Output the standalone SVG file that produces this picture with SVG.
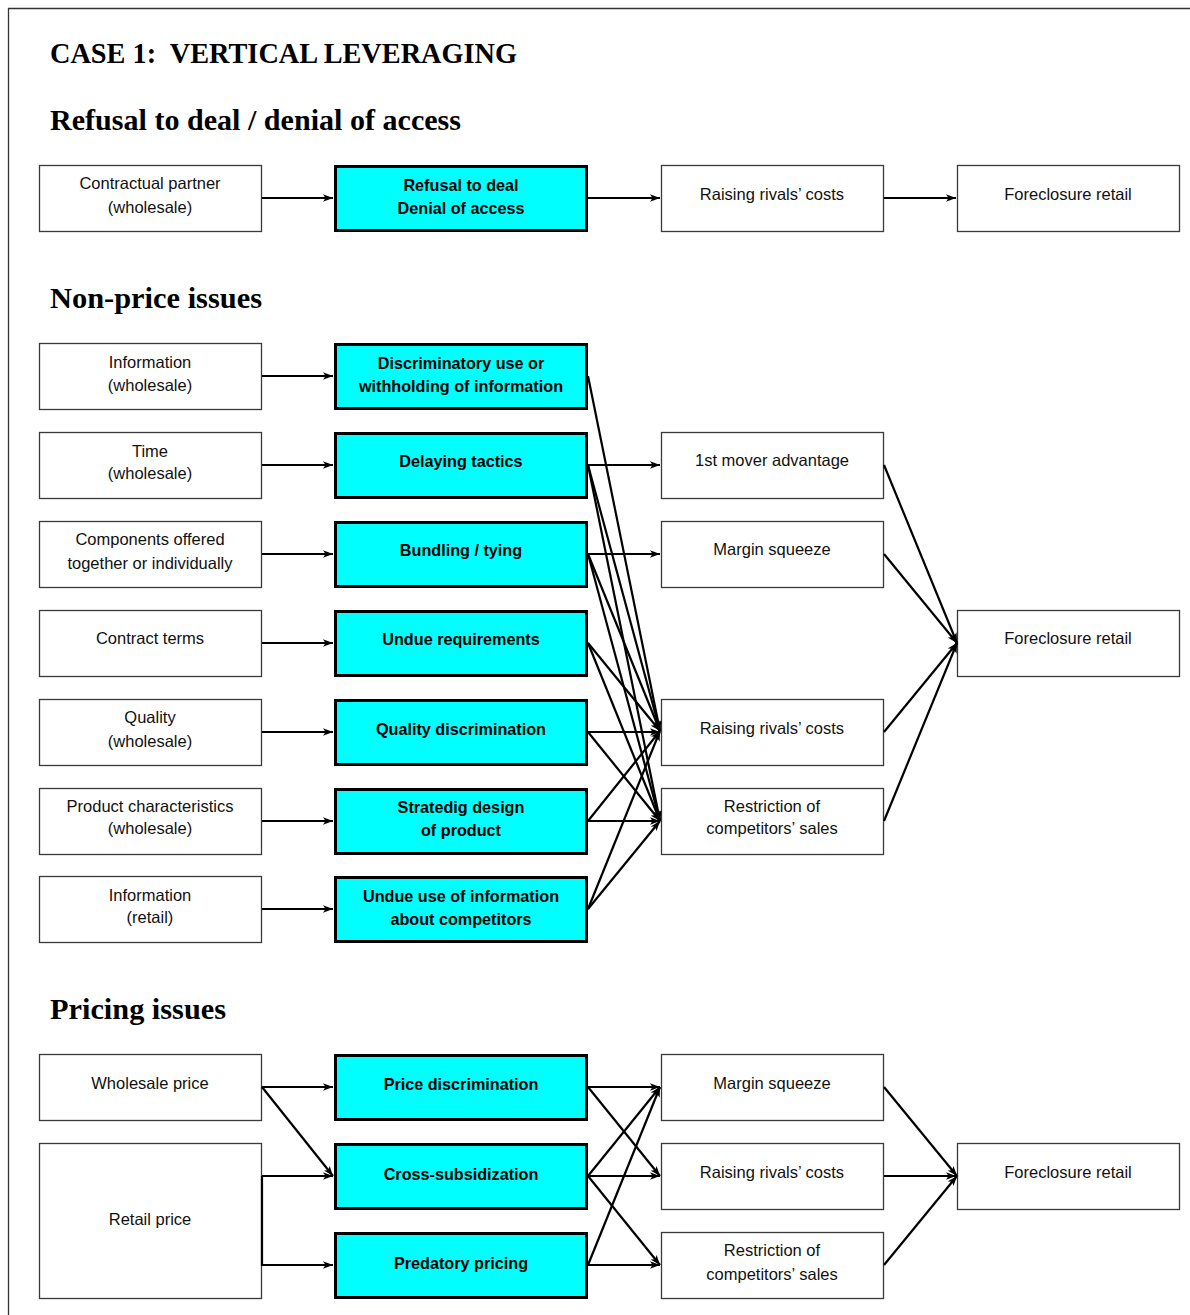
<svg xmlns="http://www.w3.org/2000/svg" width="1190" height="1315" viewBox="0 0 1190 1315">
<defs>
<marker id="a" viewBox="0 0 10 8" refX="10" refY="4" markerWidth="10" markerHeight="8" markerUnits="userSpaceOnUse" orient="auto">
<path d="M0,0.3 L10,4 L0,7.7 L2.5,4 z" fill="#000"/>
</marker>
<style>
.bg{fill:#fff}
.frame{fill:none;stroke:#333;stroke-width:1.3}
.w{fill:#fff;stroke:#3a3a3a;stroke-width:1.3}
.c{fill:#00ffff;stroke:#000;stroke-width:3}
.t{font-family:"Liberation Sans",Arial,sans-serif;font-size:16.5px;fill:#111;text-anchor:middle}
.tb{font-family:"Liberation Sans",Arial,sans-serif;font-size:16.2px;font-weight:bold;fill:#000;text-anchor:middle}
.h{font-family:"Liberation Serif","Times New Roman",serif;font-weight:bold;fill:#000;font-size:29px}
.e{fill:none;stroke:#000;stroke-width:2.2;marker-end:url(#a)}
</style>
</defs>
<rect class="bg" x="0" y="0" width="1190" height="1315"/>
<path class="frame" d="M8.5,1315 V8.5 H1190"/>

<text class="h" x="50" y="63" textLength="467" lengthAdjust="spacingAndGlyphs">CASE 1:&#160; VERTICAL LEVERAGING</text>
<text class="h" x="50" y="130" textLength="411" lengthAdjust="spacingAndGlyphs">Refusal to deal / denial of access</text>
<text class="h" x="50" y="308" textLength="212" lengthAdjust="spacingAndGlyphs">Non-price issues</text>
<text class="h" x="50" y="1019" textLength="176" lengthAdjust="spacingAndGlyphs">Pricing issues</text>

<!-- Section 1 -->
<g id="n-contractual"><rect class="w" x="39.5" y="165.5" width="222" height="66"/><text class="t" x="150" y="189">Contractual partner</text><text class="t" x="150" y="213">(wholesale)</text></g>
<g id="n-refusal"><rect class="c" x="335.5" y="166.5" width="251" height="64"/><text class="tb" x="461" y="191">Refusal to deal</text><text class="tb" x="461" y="214">Denial of access</text></g>
<g id="n-rrc1"><rect class="w" x="661.5" y="165.5" width="222" height="66"/><text class="t" x="772" y="200">Raising rivals’ costs</text></g>
<g id="n-fore1"><rect class="w" x="957.5" y="165.5" width="222" height="66"/><text class="t" x="1068" y="200">Foreclosure retail</text></g>

<!-- Section 2 left -->
<g id="n-info-w"><rect class="w" x="39.5" y="343.5" width="222" height="66"/><text class="t" x="150" y="368">Information</text><text class="t" x="150" y="391">(wholesale)</text></g>
<g id="n-time"><rect class="w" x="39.5" y="432.5" width="222" height="66"/><text class="t" x="150" y="457">Time</text><text class="t" x="150" y="479">(wholesale)</text></g>
<g id="n-components"><rect class="w" x="39.5" y="521.5" width="222" height="66"/><text class="t" x="150" y="545">Components offered</text><text class="t" x="150" y="569">together or individually</text></g>
<g id="n-contract"><rect class="w" x="39.5" y="610.5" width="222" height="66"/><text class="t" x="150" y="644">Contract terms</text></g>
<g id="n-quality"><rect class="w" x="39.5" y="699.5" width="222" height="66"/><text class="t" x="150" y="723">Quality</text><text class="t" x="150" y="747">(wholesale)</text></g>
<g id="n-product"><rect class="w" x="39.5" y="788.5" width="222" height="66"/><text class="t" x="150" y="812">Product characteristics</text><text class="t" x="150" y="834">(wholesale)</text></g>
<g id="n-info-r"><rect class="w" x="39.5" y="876.5" width="222" height="66"/><text class="t" x="150" y="901">Information</text><text class="t" x="150" y="923">(retail)</text></g>

<!-- Section 2 middle -->
<g id="n-discrim"><rect class="c" x="335.5" y="344.5" width="251" height="64"/><text class="tb" x="461" y="369">Discriminatory use or</text><text class="tb" x="461" y="392">withholding of information</text></g>
<g id="n-delay"><rect class="c" x="335.5" y="433.5" width="251" height="64"/><text class="tb" x="461" y="467">Delaying tactics</text></g>
<g id="n-bundling"><rect class="c" x="335.5" y="522.5" width="251" height="64"/><text class="tb" x="461" y="556">Bundling / tying</text></g>
<g id="n-undue-req"><rect class="c" x="335.5" y="611.5" width="251" height="64"/><text class="tb" x="461" y="645">Undue requirements</text></g>
<g id="n-quality-d"><rect class="c" x="335.5" y="700.5" width="251" height="64"/><text class="tb" x="461" y="735">Quality discrimination</text></g>
<g id="n-design"><rect class="c" x="335.5" y="789.5" width="251" height="64"/><text class="tb" x="461" y="813">Stratedig design</text><text class="tb" x="461" y="836">of product</text></g>
<g id="n-undue-info"><rect class="c" x="335.5" y="877.5" width="251" height="64"/><text class="tb" x="461" y="902">Undue use of information</text><text class="tb" x="461" y="925">about competitors</text></g>

<!-- Section 2 right -->
<g id="n-first"><rect class="w" x="661.5" y="432.5" width="222" height="66"/><text class="t" x="772" y="466">1st mover advantage</text></g>
<g id="n-margin2"><rect class="w" x="661.5" y="521.5" width="222" height="66"/><text class="t" x="772" y="555">Margin squeeze</text></g>
<g id="n-rrc2"><rect class="w" x="661.5" y="699.5" width="222" height="66"/><text class="t" x="772" y="734">Raising rivals’ costs</text></g>
<g id="n-restr2"><rect class="w" x="661.5" y="788.5" width="222" height="66"/><text class="t" x="772" y="812">Restriction of</text><text class="t" x="772" y="834">competitors’ sales</text></g>
<g id="n-fore2"><rect class="w" x="957.5" y="610.5" width="222" height="66"/><text class="t" x="1068" y="644">Foreclosure retail</text></g>

<!-- Section 3 -->
<g id="n-wholesale"><rect class="w" x="39.5" y="1054.5" width="222" height="66"/><text class="t" x="150" y="1089">Wholesale price</text></g>
<g id="n-retail"><rect class="w" x="39.5" y="1143.5" width="222" height="155"/><text class="t" x="150" y="1225">Retail price</text></g>
<g id="n-pricedisc"><rect class="c" x="335.5" y="1055.5" width="251" height="64"/><text class="tb" x="461" y="1090">Price discrimination</text></g>
<g id="n-cross"><rect class="c" x="335.5" y="1144.5" width="251" height="64"/><text class="tb" x="461" y="1180">Cross-subsidization</text></g>
<g id="n-predatory"><rect class="c" x="335.5" y="1233.5" width="251" height="64"/><text class="tb" x="461" y="1269">Predatory pricing</text></g>
<g id="n-margin3"><rect class="w" x="661.5" y="1054.5" width="222" height="66"/><text class="t" x="772" y="1089">Margin squeeze</text></g>
<g id="n-rrc3"><rect class="w" x="661.5" y="1143.5" width="222" height="66"/><text class="t" x="772" y="1178">Raising rivals’ costs</text></g>
<g id="n-restr3"><rect class="w" x="661.5" y="1232.5" width="222" height="66"/><text class="t" x="772" y="1256">Restriction of</text><text class="t" x="772" y="1280">competitors’ sales</text></g>
<g id="n-fore3"><rect class="w" x="957.5" y="1143.5" width="222" height="66"/><text class="t" x="1068" y="1178">Foreclosure retail</text></g>

<g id="connectors">
<path class="e" d="M262,198 H333"/>
<path class="e" d="M588,198 H660"/>
<path class="e" d="M884,198 H956"/>

<path class="e" d="M262,376 H333"/>
<path class="e" d="M262,465 H333"/>
<path class="e" d="M262,554 H333"/>
<path class="e" d="M262,643 H333"/>
<path class="e" d="M262,732 H333"/>
<path class="e" d="M262,821 H333"/>
<path class="e" d="M262,909 H333"/>

<path class="e" d="M588,376 L660,731"/>
<path class="e" d="M588,465 H660"/>
<path class="e" d="M588,465 L660,731"/>
<path class="e" d="M588,465 L660,821"/>
<path class="e" d="M588,554 H660"/>
<path class="e" d="M588,554 L660,731"/>
<path class="e" d="M588,554 L660,821"/>
<path class="e" d="M588,643 L660,731"/>
<path class="e" d="M588,643 L660,821"/>
<path class="e" d="M588,732 H660"/>
<path class="e" d="M588,732 L660,821"/>
<path class="e" d="M588,821 L660,731"/>
<path class="e" d="M588,821 H660"/>
<path class="e" d="M588,909 L660,731"/>
<path class="e" d="M588,909 L660,821"/>

<path class="e" d="M884,465 L957,643"/>
<path class="e" d="M884,554 L957,643"/>
<path class="e" d="M884,732 L957,643"/>
<path class="e" d="M884,821 L957,643"/>

<path class="e" d="M262,1087 H333"/>
<path class="e" d="M262,1087 L333,1176"/>
<path class="e" d="M262,1176 H333"/>
<path class="e" d="M262,1176 V1265 H333"/>

<path class="e" d="M588,1087 H660"/>
<path class="e" d="M588,1087 L660,1176"/>
<path class="e" d="M588,1176 L660,1087"/>
<path class="e" d="M588,1176 H660"/>
<path class="e" d="M588,1176 L660,1265"/>
<path class="e" d="M588,1265 L660,1087"/>
<path class="e" d="M588,1265 H660"/>

<path class="e" d="M884,1087 L957,1176"/>
<path class="e" d="M884,1176 H956"/>
<path class="e" d="M884,1265 L957,1176"/>
</g>
</svg>
